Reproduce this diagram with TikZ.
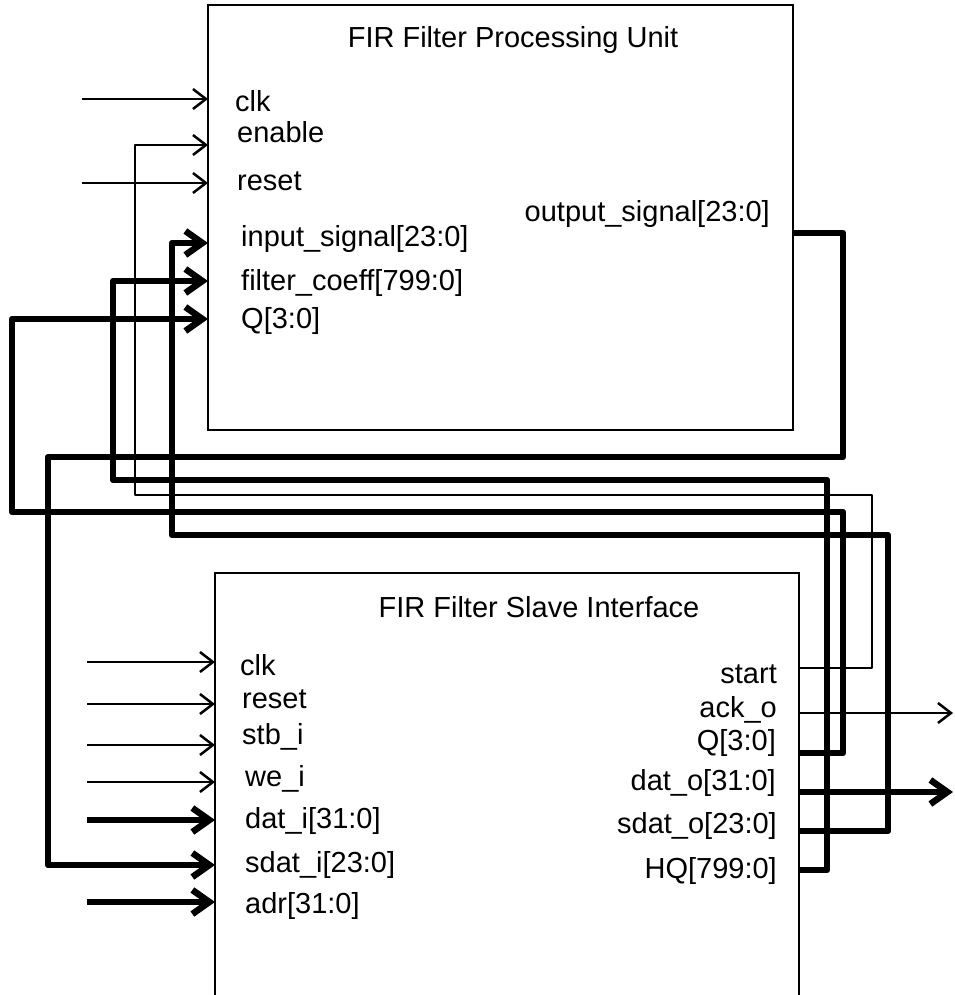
\documentclass[tikz,border=0pt]{standalone}
\usepackage{fontspec}
\setmainfont{Liberation Sans}
\usetikzlibrary{arrows.meta}
\tikzset{
  blockbox/.style={draw, line width=2.5pt, inner sep=0pt, outer sep=0pt, anchor=north west},
  portlbl/.style={font=\fontsize{29}{34}\selectfont, inner sep=0pt},
  thinwire/.style={line width=2.5pt, line join=round, -{Straight Barb[length=13pt,width=20pt]}},
  buswire/.style={line width=6.5pt, line join=round, -{Straight Barb[length=17pt,width=24pt]}}
}

\begin{document}
\begin{tikzpicture}[x=1pt,y=-1pt]
\useasboundingbox (0,0) rectangle (954,995);
\node[blockbox, minimum width=585pt, minimum height=425pt] (fpu) at (208,5) {};
\node[blockbox, minimum width=584pt, minimum height=440pt] (fsi) at (215,573) {};
\node[portlbl, anchor=base] (fpu-title) at (513,48) {FIR Filter Processing Unit};
\node[portlbl, anchor=base] (fsi-title) at (539,617) {FIR Filter Slave Interface};

\node[portlbl, anchor=base west] (pu-clk-l) at (235,112) {clk};
\node[portlbl, anchor=base west] (pu-en-l) at (237,143) {enable};
\node[portlbl, anchor=base west] (pu-rst-l) at (237,190) {reset};
\node[portlbl, anchor=base west] (pu-in-l) at (241,246) {input\_signal[23:0]};
\node[portlbl, anchor=base west] (pu-coeff-l) at (241,290) {filter\_coeff[799:0]};
\node[portlbl, anchor=base west] (pu-q-l) at (241,328) {Q[3:0]};
\node[portlbl, anchor=base east] (pu-out-l) at (770,222) {output\_signal[23:0]};

\node[portlbl, anchor=base west] (si-clk-l) at (240,675) {clk};
\node[portlbl, anchor=base west] (si-rst-l) at (242,708) {reset};
\node[portlbl, anchor=base west] (si-stb-l) at (242,744) {stb\_i};
\node[portlbl, anchor=base west] (si-we-l) at (245,786) {we\_i};
\node[portlbl, anchor=base west] (si-dati-l) at (245,828) {dat\_i[31:0]};
\node[portlbl, anchor=base west] (si-sdati-l) at (245,872) {sdat\_i[23:0]};
\node[portlbl, anchor=base west] (si-adr-l) at (245,913) {adr[31:0]};
\node[portlbl, anchor=base east] (si-start-l) at (777,683) {start};
\node[portlbl, anchor=base east] (si-ack-l) at (777,717) {ack\_o};
\node[portlbl, anchor=base east] (si-q-l) at (776,750) {Q[3:0]};
\node[portlbl, anchor=base east] (si-dato-l) at (776,790) {dat\_o[31:0]};
\node[portlbl, anchor=base east] (si-sdato-l) at (777,833) {sdat\_o[23:0]};
\node[portlbl, anchor=base east] (si-hq-l) at (777,878) {HQ[799:0]};

\coordinate (pu-clk) at (208,99);
\coordinate (pu-en) at (208,145);
\coordinate (pu-rst) at (208,183);
\coordinate (pu-in) at (208,243);
\coordinate (pu-coeff) at (208,281);
\coordinate (pu-q) at (208,319);
\coordinate (pu-out) at (793,233);
\coordinate (si-clk) at (215,662);
\coordinate (si-rst) at (215,704);
\coordinate (si-stb) at (215,745);
\coordinate (si-we) at (215,782);
\coordinate (si-dati) at (215,820);
\coordinate (si-sdati) at (215,865);
\coordinate (si-adr) at (215,902);
\coordinate (si-start) at (799,668);
\coordinate (si-ack) at (799,713);
\coordinate (si-q) at (799,753);
\coordinate (si-dato) at (799,792);
\coordinate (si-sdato) at (799,831);
\coordinate (si-hq) at (799,870);

\coordinate (clk-a) at (82,99);
\coordinate (rst-a) at (82,183);
\coordinate (clk-b) at (87,662);
\coordinate (rst-b) at (87,704);
\coordinate (stb-b) at (87,745);
\coordinate (we-b) at (87,782);
\coordinate (dat-b) at (87,820);
\coordinate (adr-b) at (87,902);
\coordinate (ack-out) at (953,713);
\coordinate (dat-out) at (953,792);

\draw[thinwire] (clk-a) -- (pu-clk);
\draw[thinwire] (rst-a) -- (pu-rst);
\draw[thinwire] (clk-b) -- (si-clk);
\draw[thinwire] (rst-b) -- (si-rst);
\draw[thinwire] (stb-b) -- (si-stb);
\draw[thinwire] (we-b) -- (si-we);
\draw[buswire] (dat-b) -- (si-dati);
\draw[buswire] (adr-b) -- (si-adr);

\draw[buswire] (pu-out) -| (843,457) -- (48,457) |- (si-sdati);
\draw[thinwire] (si-start) -| (872,495) -- (135,495) |- (pu-en);
\draw[buswire] (si-hq) -| (827,480) -- (113,480) |- (pu-coeff);
\draw[buswire] (si-q) -| (843,512) -- (12,512) |- (pu-q);
\draw[buswire] (si-sdato) -| (888,535) -- (172,535) |- (pu-in);
\draw[thinwire] (si-ack) -- (ack-out);
\draw[buswire] (si-dato) -- (dat-out);
\end{tikzpicture}
\end{document}
